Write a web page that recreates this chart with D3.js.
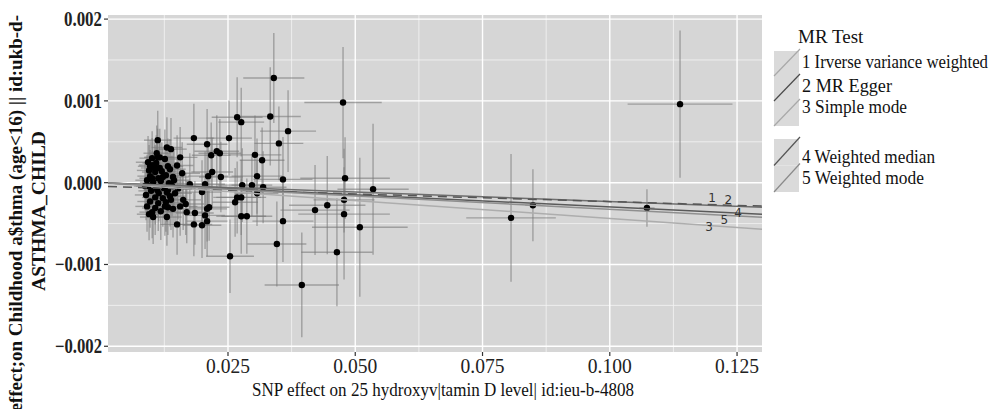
<!DOCTYPE html>
<html>
<head>
<meta charset="utf-8">
<script src="https://cdn.jsdelivr.net/npm/d3@7"></script>
<style>
body { margin: 0; background: #fff; }
</style>
</head>
<body>
<div id="chart"></div>
<script>
// SNP effects on exposure (x) and outcome (y), with standard errors
var snpX = [0.1138,0.1073,0.0849,0.0806,0.0476,0.0480,0.0478,0.0535,0.0478,0.0509,
  0.0464,0.0395,0.0254,0.0340,0.0268,0.0276,0.0333,0.0368,0.0350,0.0303,
  0.0317,0.0307,0.0358,0.0297,0.0319,0.0307,0.0445,0.0421,0.0358,0.0346,
  0.0112,0.0183,0.0252,0.0209,0.0130,0.0138,0.0228,0.0234,0.0217,0.0110,
  0.0156,0.0112,0.0101,0.0126,0.0150,0.0132,0.0097,0.0160,0.0142,0.0211,
  0.0219,0.0236,0.0175,0.0205,0.0278,0.0199,0.0268,0.0276,0.0264,0.0162,
  0.0167,0.0156,0.0142,0.0132,0.0213,0.0209,0.0185,0.0169,0.0205,0.0209,
  0.0130,0.0150,0.0183,0.0199,0.0276,0.0287,0.0101,0.0103,
  0.0093,0.0101,0.0109,0.0116,0.0095,0.0107,0.0120,0.0128,0.0097,0.0113,
  0.0091,0.0103,0.0118,0.0134,0.0093,0.0109,0.0124,0.0140,0.0099,0.0114,
  0.0130,0.0089,0.0107,0.0122,0.0136,0.0097,0.0113,0.0128,0.0146,0.0152,
  0.0091,0.0107,0.0118,0.0095,0.0111,0.0122,0.0136,0.0144,0.0126,0.0138,
  0.0087,0.0101,0.0116,0.0105,0.0132];
var snpY = [0.00096,-0.00031,-0.000275,-0.00043,0.00098,0.000055,-0.00021,-0.00008,-0.000385,-0.000545,
  -0.00085,-0.00125,-0.00090,0.00128,0.00080,0.00074,0.00081,0.00063,0.00048,0.00034,
  0.000275,0.00008,0.00004,-0.00003,-0.000055,-0.00013,-0.000275,-0.000335,-0.00047,-0.00075,
  0.00052,0.000545,0.000545,0.00047,0.00043,0.00041,0.000385,0.00036,0.000335,0.00036,
  0.00031,0.00031,0.00030,0.00029,0.00021,0.00020,0.00020,0.000115,0.00007,0.00008,
  0.00013,0.00007,-0.00002,-0.00002,-0.00003,-0.000115,-0.00018,-0.00018,-0.00024,-0.00021,
  -0.00026,-0.00029,-0.00032,-0.00030,-0.00030,-0.00032,-0.00037,-0.00036,-0.00040,-0.00047,
  -0.00042,-0.00051,-0.00051,-0.00052,-0.00041,-0.00041,-0.00036,-0.00042,
  0.00025,0.000215,0.00024,0.00018,0.00015,0.00013,0.00014,0.00009,0.00008,0.000055,
  0.00003,0.000006,0.00002,-0.000006,-0.00004,-0.000055,-0.000067,-0.00004,-0.00010,-0.00013,
  -0.00012,-0.00015,-0.00018,-0.00019,-0.000165,-0.00023,-0.00025,-0.00024,-0.00013,-0.00007,
  -0.00029,-0.00031,-0.00035,-0.000385,-0.00009,0.00007,0.000165,0.00003,-0.00029,-0.00021,
  -0.00004,0.000055,0.00031,0.00018,-0.00009];
var seX = [0.0103,0.0015,0.0015,0.0088,0.0076,0.0088,0.0060,0.0070,0.0090,0.0094,
  0.0070,0.0073,0.0047,0.0060,0.0050,0.0045,0.0060,0.0055,0.0048,0.0052,
  0.0044,0.0050,0.0058,0.0040,0.0046,0.0042,0.0075,0.0068,0.0060,0.0058,
  0.0027,0.0040,0.0045,0.0040,0.0030,0.0031,0.0044,0.0042,0.0038,0.0026,
  0.0034,0.0027,0.0025,0.0029,0.0032,0.0030,0.0024,0.0035,0.0031,0.0040,
  0.0041,0.0043,0.0036,0.0039,0.0048,0.0038,0.0047,0.0049,0.0045,0.0035,
  0.0036,0.0034,0.0031,0.0030,0.0040,0.0039,0.0037,0.0036,0.0039,0.0040,
  0.0029,0.0033,0.0036,0.0038,0.0049,0.0050,0.0025,0.0026,
  0.0024,0.0026,0.0027,0.0028,0.0024,0.0026,0.0029,0.0030,0.0025,0.0027,
  0.0023,0.0026,0.0028,0.0031,0.0024,0.0027,0.0029,0.0032,0.0025,0.0028,
  0.0030,0.0022,0.0026,0.0029,0.0031,0.0025,0.0027,0.0030,0.0033,0.0034,
  0.0023,0.0026,0.0028,0.0024,0.0027,0.0029,0.0031,0.0032,0.0030,0.0031,
  0.0022,0.0025,0.0028,0.0026,0.0030];
var seY = [0.00090,0.00023,0.00044,0.00078,0.00068,0.00050,0.00040,0.00080,0.00080,0.00085,
  0.00066,0.00064,0.00045,0.00055,0.00049,0.00042,0.00060,0.00050,0.00045,0.00048,
  0.00040,0.00046,0.00052,0.00038,0.00044,0.00040,0.00060,0.00055,0.00050,0.00052,
  0.00036,0.00042,0.00046,0.00043,0.00037,0.00038,0.00044,0.00042,0.00040,0.00034,
  0.00037,0.00035,0.00033,0.00036,0.00037,0.00034,0.00032,0.00038,0.00035,0.00041,
  0.00042,0.00043,0.00038,0.00040,0.00045,0.00039,0.00044,0.00046,0.00042,0.00037,
  0.00038,0.00036,0.00035,0.00034,0.00041,0.00040,0.00039,0.00038,0.00041,0.00043,
  0.00035,0.00037,0.00039,0.00040,0.00046,0.00046,0.00032,0.00033,
  0.00032,0.00033,0.00034,0.00035,0.00031,0.00033,0.00035,0.00036,0.00032,0.00034,
  0.00031,0.00033,0.00035,0.00036,0.00032,0.00034,0.00036,0.00037,0.00032,0.00034,
  0.00036,0.00031,0.00033,0.00035,0.00037,0.00032,0.00034,0.00036,0.00038,0.00038,
  0.00031,0.00033,0.00035,0.00032,0.00034,0.00035,0.00037,0.00038,0.00036,0.00037,
  0.00030,0.00033,0.00035,0.00033,0.00036];

// MR method fits (y = intercept + slope * x)
var methods = ["1 Irverse variance weighted", "2 MR Egger", "3 Simple mode", "4 Weighted median", "5 Weighted mode"];
var methodSlope = [-0.00231, -0.00186, -0.00438, -0.00297, -0.00325];
var methodIntercept = [0, -0.000045, 0, 0, 0];
var methodLabelX = [0.1201, 0.1233, 0.1195, 0.1252, 0.1225];

var xTicks = [0.025, 0.050, 0.075, 0.100, 0.125];
var xMinor = [0.0125, 0.0375, 0.0625, 0.0875, 0.1125];
var yTicks = [-0.002, -0.001, 0, 0.001, 0.002];
var yMinor = [-0.0015, -0.0005, 0.0005, 0.0015];

// styles
var serif = "Liberation Serif, DejaVu Serif, serif";
var lineColor = ["#6e6e6e", "#555555", "#adadad", "#5a5a5a", "#8f8f8f"];
var keyColor = ["#a8a8a8", "#4a4a4a", "#a8a8a8", "#555555", "#8a8a8a"];
var lineDash = [null, "9,6", null, null, null];
var labelDy = [-8, -5, 1, 0, 5];
var legendTextLen = [186, 90, 105, 133, 122];

var W = 991, H = 409;
var margin = {top: 15, right: 229, bottom: 57, left: 108};
var pw = W - margin.left - margin.right,
    ph = H - margin.top - margin.bottom;

var x = d3.scaleLinear().domain([0.00143, 0.1299]).range([0, pw]);
var y = d3.scaleLinear().domain([-0.00207, 0.00205]).range([ph, 0]);

var svg = d3.select("#chart").append("svg")
    .attr("width", W).attr("height", H)
    .attr("font-family", serif);

var g = svg.append("g")
    .attr("transform", "translate(" + margin.left + "," + margin.top + ")");

g.append("clipPath").attr("id", "clip")
  .append("rect").attr("width", pw).attr("height", ph);

g.append("rect").attr("width", pw).attr("height", ph).style("fill", "#d6d6d6");

// grid
g.selectAll(".gx-minor").data(xMinor).enter().append("line")
    .attr("x1", d => x(d)).attr("x2", d => x(d)).attr("y1", 0).attr("y2", ph)
    .style("stroke", "#f4f4f4").style("stroke-width", 0.8);
g.selectAll(".gy-minor").data(yMinor).enter().append("line")
    .attr("y1", d => y(d)).attr("y2", d => y(d)).attr("x1", 0).attr("x2", pw)
    .style("stroke", "#f4f4f4").style("stroke-width", 0.8);
g.selectAll(".gx").data(xTicks).enter().append("line")
    .attr("x1", d => x(d)).attr("x2", d => x(d)).attr("y1", 0).attr("y2", ph)
    .style("stroke", "#fff").style("stroke-width", 1.4);
g.selectAll(".gy").data(yTicks).enter().append("line")
    .attr("y1", d => y(d)).attr("y2", d => y(d)).attr("x1", 0).attr("x2", pw)
    .style("stroke", "#fff").style("stroke-width", 1.4);

var pts = snpX.map(function(d, i) {
  return {bx: d, by: snpY[i], sx: seX[i], sy: seY[i]};
});

var plot = g.append("g").attr("clip-path", "url(#clip)");

// error bars
plot.selectAll(".ev").data(pts).enter().append("line")
    .attr("x1", d => x(d.bx)).attr("x2", d => x(d.bx))
    .attr("y1", d => y(d.by - d.sy)).attr("y2", d => y(d.by + d.sy))
    .style("stroke", "#7a7a7a").style("stroke-opacity", 0.6).style("stroke-width", 1.4);
plot.selectAll(".eh").data(pts).enter().append("line")
    .attr("y1", d => y(d.by)).attr("y2", d => y(d.by))
    .attr("x1", d => x(d.bx - d.sx)).attr("x2", d => x(d.bx + d.sx))
    .style("stroke", "#7a7a7a").style("stroke-opacity", 0.6).style("stroke-width", 1.4);

plot.selectAll(".pt").data(pts).enter().append("circle")
    .attr("cx", d => x(d.bx)).attr("cy", d => y(d.by)).attr("r", 3.2)
    .style("fill", "#000");

// fitted lines
var xd = x.domain();
methods.forEach(function(m, i) {
  plot.append("line")
    .attr("x1", x(xd[0])).attr("y1", y(methodIntercept[i] + methodSlope[i] * xd[0]))
    .attr("x2", x(xd[1])).attr("y2", y(methodIntercept[i] + methodSlope[i] * xd[1]))
    .style("stroke", lineColor[i]).style("stroke-width", 1.5)
    .style("stroke-dasharray", lineDash[i]);
  var lx = methodLabelX[i];
  g.append("text")
    .attr("x", x(lx)).attr("y", y(methodIntercept[i] + methodSlope[i] * lx) + labelDy[i])
    .attr("text-anchor", "middle").attr("dy", "0.35em")
    .attr("font-family", "DejaVu Sans, sans-serif").attr("font-size", 12)
    .style("fill", "#333")
    .text(m.split(" ")[0]);
});

// axes
g.selectAll(".xt").data(xTicks).enter().append("line")
    .attr("x1", d => x(d)).attr("x2", d => x(d)).attr("y1", ph).attr("y2", ph + 4)
    .style("stroke", "#333").style("stroke-width", 1.2);
g.selectAll(".xl").data(xTicks).enter().append("text")
    .attr("x", d => x(d)).attr("y", ph + 21)
    .attr("text-anchor", "middle")
    .attr("textLength", 44).attr("lengthAdjust", "spacingAndGlyphs")
    .attr("font-size", 20).style("fill", "#222")
    .text(d3.format(".3f"));

g.selectAll(".yt").data(yTicks).enter().append("line")
    .attr("x1", -4).attr("x2", 0).attr("y1", d => y(d)).attr("y2", d => y(d))
    .style("stroke", "#333").style("stroke-width", 1.2);
var yfmt = d3.format(".3f");
g.selectAll(".yl").data(yTicks).enter().append("text")
    .attr("x", -6).attr("y", d => y(d)).attr("dy", "0.35em")
    .attr("text-anchor", "end")
    .attr("textLength", d => d < 0 ? 47 : 38).attr("lengthAdjust", "spacingAndGlyphs")
    .attr("font-size", 20).attr("font-weight", "bold").style("fill", "#222")
    .text(d => yfmt(d).replace("-", "\u2212"));

// axis titles
svg.append("text")
    .attr("x", 443).attr("y", 396)
    .attr("text-anchor", "middle")
    .attr("textLength", 382).attr("lengthAdjust", "spacingAndGlyphs")
    .attr("font-size", 19).style("fill", "#111")
    .text("SNP effect on 25 hydroxyv|tamin D level| id:ieu-b-4808");

svg.append("text")
    .attr("transform", "translate(15,15) rotate(-90)")
    .attr("text-anchor", "end").attr("dy", "0.35em")
    .attr("font-size", 19).attr("font-weight", "bold").style("fill", "#111")
    .text("SNP effect;on Childhood a$thma (age<16) || id:ukb-d-");
svg.append("text")
    .attr("transform", "translate(38,211) rotate(-90)")
    .attr("text-anchor", "middle").attr("dy", "0.35em")
    .attr("textLength", 160).attr("lengthAdjust", "spacingAndGlyphs")
    .attr("font-size", 19).attr("font-weight", "bold").style("fill", "#111")
    .text("ASTHMA_CHILD");

// legend
var lg = svg.append("g").attr("transform", "translate(774,0)");
lg.append("text").attr("x", 24).attr("y", 43)
    .attr("font-size", 19).style("fill", "#111").text("MR Test");
var keyTop = [51, 76, 101, 139, 165.5];
var keyH = [25, 25, 25, 26.5, 26.5];
var textY = [62, 86, 107, 157, 178];
methods.forEach(function(m, i) {
  lg.append("rect").attr("x", 0).attr("y", keyTop[i]).attr("width", 25).attr("height", keyH[i])
    .style("fill", "#dadada");
});
methods.forEach(function(m, i) {
  lg.append("line")
    .attr("x1", 0).attr("y1", keyTop[i] + keyH[i])
    .attr("x2", 26).attr("y2", keyTop[i] - 2)
    .style("stroke", keyColor[i]).style("stroke-width", 1.2);
  lg.append("text").attr("x", 28).attr("y", textY[i]).attr("dy", "0.35em")
    .attr("textLength", legendTextLen[i]).attr("lengthAdjust", "spacingAndGlyphs")
    .attr("font-size", 18).style("fill", "#111").text(m);
});
</script>
</body>
</html>
